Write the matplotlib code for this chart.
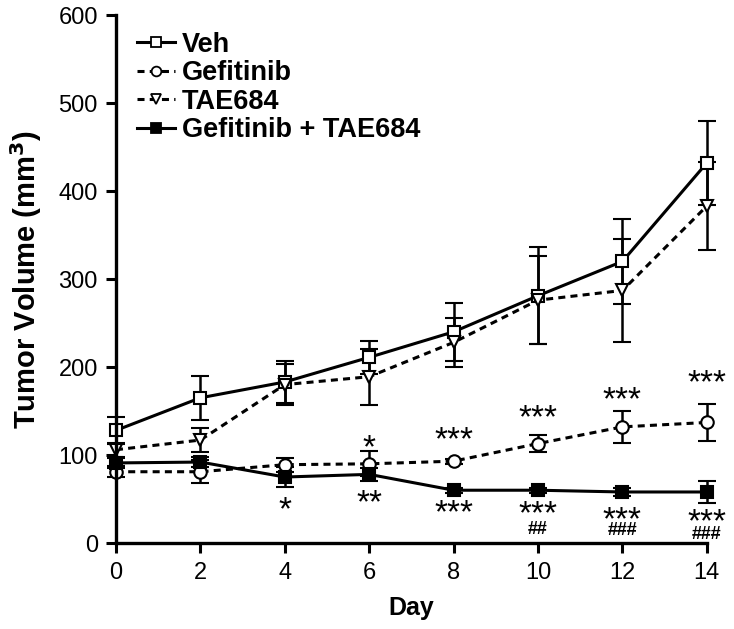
import numpy as np
import matplotlib.pyplot as plt
from matplotlib.lines import Line2D

plt.rcParams["font.family"] = ["Liberation Sans", "DejaVu Sans"]

# ====================== 数据 ======================
days = [0, 2, 4, 6, 8, 10, 12, 14]
veh = [128, 165, 183, 211, 240, 281, 320, 432]
veh_err = [15, 25, 24, 19, 33, 55, 48, 48]
gef = [81, 81, 89, 90, 93, 113, 132, 137]
gef_err = [6, 13, 8, 14, 3, 10, 18, 21]
tae = [106, 117, 180, 189, 228, 276, 287, 383]
tae_err = [8, 14, 23, 32, 28, 50, 59, 50]
combo = [91, 92, 75, 78, 60, 60, 58, 58]
combo_err = [6, 6, 11, 7, 3, 3, 5, 13]

# 显著性标记：(天, 文本, 视觉中心y)
sig_stars = [(6, "*", 115), (8, "***", 124), (10, "***", 149), (12, "***", 170), (14, "***", 189),
             (4, "*", 45), (6, "**", 53), (8, "***", 42), (10, "***", 41), (12, "***", 34), (14, "***", 31)]
sig_hash = [(10, "##", 15), (12, "###", 14), (14, "###", 10)]

fig = plt.figure(figsize=(7.34, 6.29), dpi=100)
ax = fig.add_axes([0.158, 0.1367, 0.805, 0.8394])

lw = 2.2
dot = (0, (2.3, 1.7))
styles = [
    ("Veh", veh, veh_err, "s", "white", "-"),
    ("Gefitinib", gef, gef_err, "o", "white", dot),
    ("TAE684", tae, tae_err, "v", "white", dot),
    ("Gefitinib + TAE684", combo, combo_err, "s", "black", "-"),
]
handles = []
for name, vals, err, mk, fc, ls in styles:
    ax.errorbar(days, vals, yerr=err, marker=mk, mfc=fc, ls=ls, color="black",
                lw=lw, ms=9, mew=1.5, capsize=6.5, elinewidth=1.8,
                capthick=1.8, clip_on=False)
    handles.append(Line2D([], [], color="black", lw=lw, ls=ls, marker=mk,
                          mfc=fc, ms=7, mew=1.3, label=name))

# 星号字形偏上，向下平移使视觉中心对齐
for d, s, y in sig_stars:
    ax.text(d, y - 18, s, ha="center", va="baseline", fontsize=24)
for d, s, y in sig_hash:
    ax.text(d, y, s, ha="center", va="center", fontsize=13, fontweight="bold")

ax.set_xlim(0, 14)
ax.set_ylim(0, 600)
ax.set_xticks(days)
ax.set_yticks(range(0, 601, 100))
ax.spines["top"].set_visible(False)
ax.spines["right"].set_visible(False)
for sp in ["left", "bottom"]:
    ax.spines[sp].set_linewidth(2.4)
ax.tick_params(width=2.2, length=7, labelsize=17)
ax.tick_params(axis="x", pad=7)
ax.tick_params(axis="y", pad=6)
ax.set_xlabel("Day", fontsize=18, fontweight="bold")
ax.set_ylabel("Tumor Volume (mm$^\\mathbf{3}$)", fontsize=21, fontweight="bold")
ax.xaxis.set_label_coords(0.5, -0.100)
ax.yaxis.set_label_coords(-0.122, 0.5)

ax.legend(handles=handles, loc="upper left", bbox_to_anchor=(0.0355, 0.968), frameon=False,
          prop={"size": 19.5, "weight": "bold"}, handlelength=1.4,
          handletextpad=0.26, labelspacing=0.09, borderaxespad=0.0, borderpad=0.0)

fig.savefig("out.png", dpi=100)
